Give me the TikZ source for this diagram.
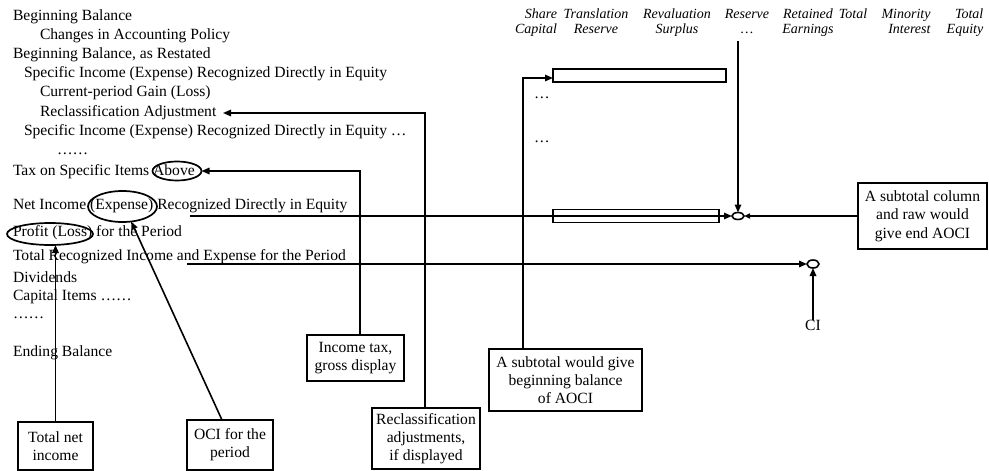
\documentclass[tikz,border=0pt]{standalone}
\usepackage{fontspec}
\setmainfont{Liberation Serif}
\usetikzlibrary{arrows.meta,shapes.geometric,calc}
\begin{document}
\begin{tikzpicture}[x=1pt,y=-1pt,
  every node/.style={inner sep=0pt, outer sep=0pt},
  body/.style={anchor=base west, font=\fontsize{15.6}{18}\selectfont},
  head/.style={anchor=north, font=\fontsize{14}{15}\selectfont\itshape},
  ring/.style={draw, ellipse, line width=1.7pt},
  note/.style={draw, line width=1.8pt, align=center, font=\fontsize{15.6}{18.3}\selectfont},
  bar/.style={draw, line width=1.5pt},
  link/.style={line width=1.6pt},
  tip/.style={link, -{Triangle[length=8pt,width=6.5pt]}},
  smalltip/.style={link, -{Triangle[length=6pt,width=5pt]}},
]
\useasboundingbox (0,0) rectangle (989,471);

% statement rows
\node[body] (t1)  at (13,20.7)  {Beginning Balance};
\node[body] (t2)  at (40,39.3)  {Changes in Accounting Policy};
\node[body] (t3)  at (13,58.3)  {Beginning Balance, as Restated};
\node[body] (t4)  at (24,77.7)  {Specific Income (Expense) Recognized Directly in Equity};
\node[body] (t5)  at (40,96.7)  {Current-period Gain (Loss)};
\node[body] (t6)  at (40,116)   {Reclassification Adjustment};
\node[body] (t7)  at (24,135)   {Specific Income (Expense) Recognized Directly in Equity …};
\node[body] (t8)  at (57,154)   {……};
\node[body] (t9)  at (13,175)   {Tax on Specific Items Above};
\node[body] (t10) at (13,209.3) {Net Income (Expense) Recognized Directly in Equity};
\node[body] (t11) at (13,236.7) {Profit (Loss) for the Period};
\node[body] (t12) at (13,260.7) {Total Recognized Income and Expense for the Period};
\node[body] (t13) at (13,282.7) {Dividends};
\node[body] (t14) at (13,300.7) {Capital Items ……};
\node[body] (t15) at (13,318.3) {……};
\node[body] (t16) at (13,356)   {Ending Balance};

% column headings
\node[head, align=right]  (h1) at (536,9) {Share\\Capital};
\node[head, align=center] (h2) at (596,9) {Translation\\Reserve};
\node[head, align=center] (h3) at (677,9) {Revaluation\\Surplus};
\node[head, align=center] (h4) at (747,9) {Reserve\\…};
\node[head, align=center] (h5) at (808,9) {Retained\\Earnings};
\node[head, align=center] (h6) at (853,9) {Total\\\phantom{I}};
\node[head, align=right]  (h7) at (906,9) {Minority\\Interest};
\node[head, align=right]  (h8) at (965,9) {Total\\Equity};

% circled words
\node[ring, minimum width=49pt, minimum height=19pt] (eAbove) at (177,171) {};
\node[ring, minimum width=69pt, minimum height=31pt] (eExp)   at (122.5,206.5) {};
\node[ring, minimum width=86pt, minimum height=22pt] (eProf)  at (50,234) {};

% equity bars and summing points
\node[bar, minimum width=173pt, minimum height=13pt] (topbar) at (639.5,75.5) {};
\node[bar, minimum width=166pt, minimum height=13pt] (midbar) at (636,216) {};
\node[body] (d1) at (534,98) {…};
\node[body] (d2) at (534,142) {…};
\node[draw, ellipse, line width=1.6pt, minimum width=12pt, minimum height=7pt] (c1) at (738,216) {};
\node[draw, ellipse, line width=1.6pt, minimum width=12pt, minimum height=8pt] (c2) at (813,264) {};
\node[font=\fontsize{15.6}{18}\selectfont] (ci) at (813,325) {CI};

% callout boxes
\node[note, minimum width=75pt,  minimum height=48pt] (tni)  at (55.5,446)  {Total net\\income};
\node[note, minimum width=86pt,  minimum height=50pt] (oci)  at (230,445)   {OCI for the\\period};
\node[note, minimum width=97pt,  minimum height=46pt] (itax) at (355.5,358) {Income tax,\\gross display};
\node[note, minimum width=108pt, minimum height=61pt] (recl) at (426,438.5) {Reclassification\\adjustments,\\if displayed};
\node[note, minimum width=153pt, minimum height=62pt] (abeg) at (565.5,380) {A subtotal would give\\beginning balance\\of AOCI};
\node[note, minimum width=129pt, minimum height=66pt] (aend) at (922.5,216) {A subtotal column\\and raw would\\give end AOCI};

% connector anchors
\coordinate (raTip)  at (223,113);
\coordinate (niFrom) at (190,216);
\coordinate (trFrom) at (187,264);
\coordinate (colTop) at (738,41);

% connectors
\draw[tip] (recl.north -| 425,0) |- (raTip);
\draw[tip] (itax.north -| 360,0) |- (eAbove.east);
\draw[tip] (tni.north) -- (tni.north |- eProf.south);
\draw[tip] ($(oci.north)+(-8,0)$) -- (eExp.300);
\draw[tip] (abeg.north -| 523,0) |- (topbar.west |- 0,78);
\draw[tip] (colTop) -- (c1.north);
\draw[link] (niFrom) -- (midbar.east);
\draw[tip] (midbar.east) -- (c1.west);
\draw[smalltip] (aend.west) -- (c1.east);
\draw[tip] (trFrom) -- (c2.west);
\draw[tip] (ci.north) -- (c2.south);
\end{tikzpicture}
\end{document}
